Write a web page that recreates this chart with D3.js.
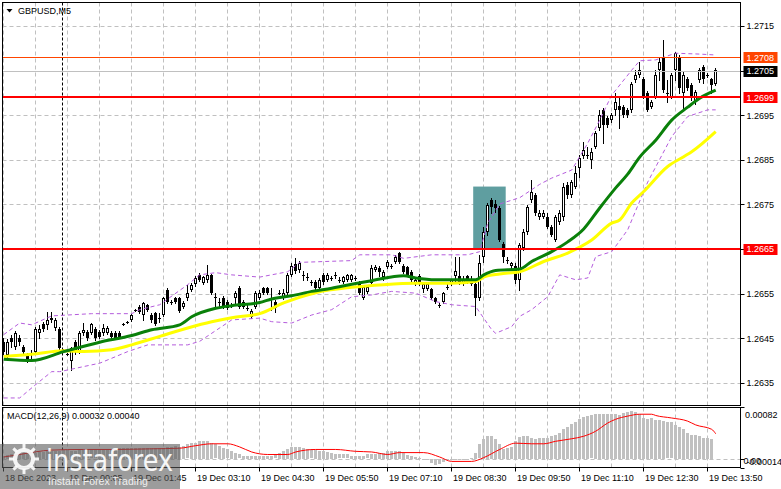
<!DOCTYPE html>
<html lang="en">

<head>
    <meta charset="utf-8">
    <!-- Load d3.js -->
    <script src="https://d3js.org/d3.v7.min.js"></script>
    <style>
        body { margin: 0; background: #fff; }
        svg text { font-family: "Liberation Sans", Arial, sans-serif; font-size: 9px; }
    </style>
</head>

<body>
    <div id="chart"></div>

    <script>
        // GBPUSD M5 candles, one entry per bar (bar 0 = first bar on screen)
        const opens = [
            1.26442, 1.26413, 1.26451, 1.26431, 1.26451, 1.26431, 1.26413, 1.26415, 1.26420, 1.26462,
            1.26482, 1.26480, 1.26496, 1.26473, 1.26471, 1.26424, 1.26415, 1.26399, 1.26442, 1.26420,
            1.26462, 1.26464, 1.26462, 1.26471, 1.26464, 1.26462, 1.26462, 1.26462, 1.26462, 1.26462,
            1.26482, 1.26487, 1.26491, 1.26514, 1.26520, 1.26502, 1.26525, 1.26502, 1.26507, 1.26496,
            1.26502, 1.26558, 1.26532, 1.26541, 1.26541, 1.26520, 1.26541, 1.26558, 1.26572, 1.26592,
            1.26574, 1.26581, 1.26592, 1.26543, 1.26532, 1.26541, 1.26532, 1.26525, 1.26541, 1.26563,
            1.26532, 1.26518, 1.26498, 1.26520, 1.26541, 1.26563, 1.26563, 1.26541, 1.26532, 1.26552,
            1.26541, 1.26552, 1.26592, 1.26617, 1.26603, 1.26592, 1.26588, 1.26576, 1.26576, 1.26563,
            1.26592, 1.26581, 1.26585, 1.26592, 1.26581, 1.26576, 1.26581, 1.26581, 1.26585, 1.26574,
            1.26541, 1.26554, 1.26574, 1.26603, 1.26608, 1.26588, 1.26610, 1.26612, 1.26621, 1.26641,
            1.26612, 1.26610, 1.26599, 1.26572, 1.26590, 1.26561, 1.26561, 1.26561, 1.26541, 1.26525,
            1.26532, 1.26565, 1.26572, 1.26590, 1.26590, 1.26572, 1.26590, 1.26572, 1.26572, 1.26541,
            1.26632, 1.26688, 1.26760, 1.26751, 1.26742, 1.26662, 1.26626, 1.26612, 1.26612, 1.26581,
            1.26652, 1.26688, 1.26760, 1.26771, 1.26722, 1.26722, 1.26722, 1.26700, 1.26670, 1.26711,
            1.26722, 1.26794, 1.26771, 1.26789, 1.26832, 1.26859, 1.26861, 1.26850, 1.26879, 1.26921,
            1.26962, 1.26944, 1.26939, 1.26962, 1.26971, 1.26968, 1.26962, 1.26962, 1.27029, 1.27040,
            1.27031, 1.27000, 1.26968, 1.26991, 1.27051, 1.27080, 1.27000, 1.26991, 1.27051, 1.27080,
            1.27000, 1.27031, 1.27018, 1.26980, 1.27029, 1.27058, 1.27040, 1.27031, 1.27020
        ];
        const highs = [
            1.26451, 1.26449, 1.26458, 1.26466, 1.26458, 1.26435, 1.26417, 1.26424, 1.26476, 1.26480,
            1.26487, 1.26509, 1.26509, 1.26496, 1.26476, 1.26426, 1.26417, 1.26431, 1.26446, 1.26466,
            1.26485, 1.26468, 1.26485, 1.26476, 1.26468, 1.26482, 1.26478, 1.26466, 1.26466, 1.26466,
            1.26485, 1.26489, 1.26505, 1.26516, 1.26525, 1.26532, 1.26527, 1.26507, 1.26509, 1.26507,
            1.26543, 1.26563, 1.26536, 1.26543, 1.26543, 1.26534, 1.26570, 1.26574, 1.26590, 1.26596,
            1.26590, 1.26614, 1.26594, 1.26552, 1.26541, 1.26545, 1.26536, 1.26529, 1.26556, 1.26567,
            1.26536, 1.26525, 1.26516, 1.26556, 1.26558, 1.26565, 1.26565, 1.26563, 1.26536, 1.26558,
            1.26561, 1.26596, 1.26619, 1.26630, 1.26624, 1.26601, 1.26596, 1.26581, 1.26581, 1.26585,
            1.26596, 1.26596, 1.26590, 1.26599, 1.26588, 1.26590, 1.26594, 1.26594, 1.26590, 1.26579,
            1.26570, 1.26567, 1.26614, 1.26614, 1.26612, 1.26603, 1.26626, 1.26617, 1.26636, 1.26643,
            1.26617, 1.26612, 1.26603, 1.26585, 1.26594, 1.26574, 1.26574, 1.26563, 1.26543, 1.26529,
            1.26554, 1.26572, 1.26583, 1.26632, 1.26632, 1.26590, 1.26592, 1.26590, 1.26581, 1.26636,
            1.26700, 1.26753, 1.26764, 1.26760, 1.26747, 1.26666, 1.26632, 1.26621, 1.26619, 1.26664,
            1.26695, 1.26749, 1.26805, 1.26776, 1.26738, 1.26738, 1.26731, 1.26704, 1.26726, 1.26738,
            1.26798, 1.26800, 1.26805, 1.26836, 1.26861, 1.26890, 1.26879, 1.26876, 1.26915, 1.26962,
            1.26966, 1.26948, 1.26955, 1.27000, 1.26991, 1.26973, 1.26966, 1.27024, 1.27051, 1.27069,
            1.27036, 1.27004, 1.26984, 1.27051, 1.27078, 1.27118, 1.27029, 1.27044, 1.27092, 1.27085,
            1.27047, 1.27036, 1.27022, 1.27006, 1.27056, 1.27062, 1.27044, 1.27033, 1.27056
        ];
        const lows = [
            1.26415, 1.26408, 1.26431, 1.26426, 1.26435, 1.26415, 1.26397, 1.26406, 1.26415, 1.26451,
            1.26466, 1.26471, 1.26487, 1.26468, 1.26426, 1.26420, 1.26413, 1.26379, 1.26415, 1.26417,
            1.26458, 1.26446, 1.26460, 1.26446, 1.26451, 1.26458, 1.26460, 1.26449, 1.26449, 1.26451,
            1.26480, 1.26485, 1.26489, 1.26511, 1.26507, 1.26491, 1.26511, 1.26487, 1.26480, 1.26487,
            1.26500, 1.26529, 1.26527, 1.26529, 1.26509, 1.26518, 1.26536, 1.26556, 1.26567, 1.26579,
            1.26572, 1.26576, 1.26548, 1.26520, 1.26520, 1.26518, 1.26516, 1.26520, 1.26525, 1.26518,
            1.26518, 1.26514, 1.26496, 1.26518, 1.26538, 1.26550, 1.26550, 1.26514, 1.26509, 1.26548,
            1.26538, 1.26550, 1.26590, 1.26596, 1.26599, 1.26581, 1.26581, 1.26570, 1.26558, 1.26561,
            1.26572, 1.26579, 1.26581, 1.26585, 1.26576, 1.26574, 1.26579, 1.26579, 1.26581, 1.26548,
            1.26538, 1.26552, 1.26572, 1.26601, 1.26590, 1.26581, 1.26608, 1.26608, 1.26619, 1.26619,
            1.26596, 1.26590, 1.26579, 1.26570, 1.26570, 1.26554, 1.26558, 1.26538, 1.26529, 1.26520,
            1.26529, 1.26561, 1.26570, 1.26574, 1.26572, 1.26570, 1.26574, 1.26570, 1.26502, 1.26536,
            1.26621, 1.26682, 1.26731, 1.26733, 1.26668, 1.26621, 1.26619, 1.26608, 1.26574, 1.26558,
            1.26648, 1.26684, 1.26756, 1.26726, 1.26717, 1.26720, 1.26697, 1.26679, 1.26668, 1.26706,
            1.26715, 1.26764, 1.26767, 1.26787, 1.26812, 1.26854, 1.26854, 1.26832, 1.26876, 1.26917,
            1.26888, 1.26924, 1.26935, 1.26950, 1.26921, 1.26946, 1.26946, 1.26957, 1.27024, 1.27036,
            1.26988, 1.26959, 1.26966, 1.26988, 1.27029, 1.27002, 1.26980, 1.26988, 1.27029, 1.27000,
            1.26962, 1.27006, 1.26984, 1.26975, 1.27024, 1.27022, 1.27036, 1.27000, 1.27018
        ];
        const closes = [
            1.26420, 1.26442, 1.26442, 1.26462, 1.26442, 1.26420, 1.26402, 1.26413, 1.26471, 1.26471,
            1.26471, 1.26491, 1.26491, 1.26491, 1.26428, 1.26422, 1.26415, 1.26428, 1.26420, 1.26462,
            1.26468, 1.26451, 1.26482, 1.26451, 1.26453, 1.26473, 1.26473, 1.26453, 1.26451, 1.26453,
            1.26482, 1.26487, 1.26502, 1.26514, 1.26509, 1.26529, 1.26514, 1.26491, 1.26482, 1.26496,
            1.26541, 1.26532, 1.26532, 1.26532, 1.26511, 1.26529, 1.26552, 1.26570, 1.26585, 1.26581,
            1.26588, 1.26592, 1.26552, 1.26543, 1.26532, 1.26520, 1.26518, 1.26525, 1.26552, 1.26520,
            1.26520, 1.26518, 1.26511, 1.26552, 1.26552, 1.26552, 1.26552, 1.26541, 1.26518, 1.26552,
            1.26552, 1.26592, 1.26612, 1.26601, 1.26619, 1.26592, 1.26588, 1.26576, 1.26563, 1.26581,
            1.26576, 1.26592, 1.26585, 1.26592, 1.26581, 1.26588, 1.26592, 1.26592, 1.26585, 1.26552,
            1.26565, 1.26565, 1.26608, 1.26610, 1.26599, 1.26599, 1.26621, 1.26612, 1.26632, 1.26621,
            1.26599, 1.26592, 1.26581, 1.26581, 1.26572, 1.26572, 1.26572, 1.26541, 1.26532, 1.26525,
            1.26552, 1.26565, 1.26581, 1.26601, 1.26576, 1.26581, 1.26581, 1.26581, 1.26541, 1.26619,
            1.26688, 1.26749, 1.26744, 1.26742, 1.26670, 1.26632, 1.26626, 1.26619, 1.26581, 1.26659,
            1.26688, 1.26744, 1.26778, 1.26731, 1.26731, 1.26731, 1.26700, 1.26682, 1.26722, 1.26731,
            1.26789, 1.26771, 1.26800, 1.26820, 1.26854, 1.26872, 1.26861, 1.26868, 1.26910, 1.26950,
            1.26928, 1.26928, 1.26950, 1.26980, 1.26962, 1.26950, 1.26950, 1.27020, 1.27040, 1.27051,
            1.26991, 1.26962, 1.26980, 1.27040, 1.27069, 1.27006, 1.27000, 1.27040, 1.27089, 1.27011,
            1.27040, 1.27011, 1.26991, 1.27002, 1.27051, 1.27031, 1.27040, 1.27018, 1.27051
        ];

        // moving averages and bollinger bands as [bar, price]
        const maGreen = [
            [0, 1.26403], [7, 1.26400], [15, 1.26420], [24, 1.26441], [32, 1.26456], [37, 1.26469],
            [44, 1.26480], [47, 1.26498], [53, 1.26517], [57, 1.26523], [64, 1.26530], [67, 1.26538],
            [72, 1.26545], [77, 1.26555], [82, 1.26562], [87, 1.26571], [92, 1.26579], [100, 1.26590],
            [103, 1.26585], [108, 1.26581], [118, 1.26581], [120, 1.26592], [123, 1.26602], [129, 1.26605],
            [132, 1.26622], [137, 1.26644], [141, 1.26666], [145, 1.26695], [149, 1.26742], [153, 1.26787],
            [156, 1.26818], [159, 1.26856], [163, 1.26894], [167, 1.26939], [171, 1.26968], [174, 1.26988],
            [178, 1.27006]
        ];
        const maYellow = [
            [0, 1.26409], [7, 1.26414], [15, 1.26422], [20, 1.26420], [27, 1.26424], [32, 1.26435],
            [39, 1.26454], [46, 1.26473], [52, 1.26487], [57, 1.26496], [64, 1.26505], [70, 1.26529],
            [78, 1.26552], [87, 1.26564], [95, 1.26570], [103, 1.26573], [112, 1.26573], [118, 1.26577],
            [120, 1.26587], [124, 1.26594], [129, 1.26599], [135, 1.26622], [141, 1.26641], [147, 1.26670],
            [152, 1.26708], [154, 1.26715], [157, 1.26753], [160, 1.26779], [166, 1.26835], [170, 1.26857],
            [172, 1.26868], [178, 1.26913]
        ];
        const bandUpper = [
            [0, 1.26458], [4, 1.26484], [7, 1.26480], [12, 1.26500], [22, 1.26505], [32, 1.26505],
            [34, 1.26514], [39, 1.26525], [46, 1.26570], [49, 1.26592], [53, 1.26597], [57, 1.26592],
            [64, 1.26587], [71, 1.26599], [74, 1.26620], [87, 1.26624], [89, 1.26637], [97, 1.26637],
            [100, 1.26629], [107, 1.26637], [116, 1.26637], [119, 1.26644], [121, 1.26708], [124, 1.26751],
            [129, 1.26765], [134, 1.26795], [137, 1.26809], [142, 1.26827], [146, 1.26887], [149, 1.26939],
            [152, 1.26995], [157, 1.27051], [159, 1.27072], [163, 1.27074], [168, 1.27089], [174, 1.27087],
            [178, 1.27085]
        ];
        const bandLower = [
            [0, 1.26316], [4, 1.26316], [8, 1.26346], [12, 1.26375], [14, 1.26375], [24, 1.26394],
            [27, 1.26405], [31, 1.26420], [36, 1.26435], [46, 1.26435], [49, 1.26443], [57, 1.26491],
            [64, 1.26495], [67, 1.26487], [72, 1.26484], [77, 1.26502], [82, 1.26514], [87, 1.26543],
            [92, 1.26547], [97, 1.26555], [103, 1.26551], [108, 1.26532], [112, 1.26525], [118, 1.26521],
            [122, 1.26469], [123, 1.26461], [127, 1.26476], [129, 1.26499], [132, 1.26514], [136, 1.26543],
            [139, 1.26592], [143, 1.26581], [146, 1.26585], [148, 1.26633], [152, 1.26644], [156, 1.26693],
            [161, 1.26800], [167, 1.26902], [171, 1.26947], [176, 1.26962], [178, 1.26962]
        ];

        // MACD(12,26,9): main line per bar (units of 0.00001), signal read as [bar, value]
        const macdMain = [
            5, 6, 7, 8, 8, 9, 9, 10, 10, 11, 11, 12, 12, 13, 13,
            14, 14, 13, 13, 14, 14, 15, 15, 15, 16, 16, 16, 16, 17, 17, 17,
            17, 17, 17, 17, 18, 18, 18, 18, 17, 18, 19, 19, 20,
            19, 21, 23, 25, 26, 28, 29, 28, 26, 23, 20, 17, 15, 12, 10, 7,
            5, 4, 4, 4, 5, 5, 5, 5, 7, 10, 12, 16, 19, 19, 19, 17,
            16, 15, 14, 13, 12, 11, 10, 8, 7, 7, 7, 5, 5, 5, 5, 7, 8, 8, 10, 10,
            12, 13, 13, 12, 10, 6, 5, 3, 2, 0, -2, -6, -9, -8, -4, -2,
            -1, -1, -1, -1, 0, 2, 10, 23, 32, 36, 36, 31, 24, 16, 17, 19,
            28, 35, 36, 36, 34, 32, 33, 33, 33, 36, 38, 41, 47, 51, 56, 59,
            63, 66, 68, 69, 71, 72, 72, 72, 72, 71, 70, 73, 75, 76, 75, 71,
            65, 63, 65, 62, 62, 60, 58, 58, 54, 51, 47, 41, 38, 38, 36, 34, 33, 32
        ];
        const macdSignal = [
            [0, 3], [4, 7], [12, 14], [20, 15], [28, 15], [37, 16], [44, 17], [48, 21], [52, 24],
            [56, 24], [59, 19], [62, 11], [66, 7], [71, 7], [73, 11], [78, 15], [83, 15], [88, 12],
            [92, 11], [96, 7], [99, 10], [105, 10], [109, 3], [112, -4], [117, -4], [120, 2],
            [124, 15], [128, 25], [132, 24], [135, 24], [138, 28], [142, 32], [145, 36], [148, 44],
            [151, 57], [153, 63], [156, 68], [159, 71], [162, 71], [163, 69], [167, 65], [171, 60],
            [173, 54], [177, 47], [178, 40]
        ];

        // axis ticks and labels
        const priceTicks = [1.2635, 1.2645, 1.2655, 1.2665, 1.2675, 1.2685, 1.2695, 1.2705, 1.2715];
        const timeBars = [0, 16, 32, 48, 64, 80, 96, 112, 128, 144, 160, 176];
        const timeLabels = ["18 Dec 2023", "19 Dec 00:05", "19 Dec 01:45", "19 Dec 03:10", "19 Dec 04:30",
            "19 Dec 05:50", "19 Dec 07:10", "19 Dec 08:30", "19 Dec 09:50", "19 Dec 11:10",
            "19 Dec 12:30", "19 Dec 13:50"];
        const daySeparatorBar = 15;

        // horizontal levels drawn on the chart
        const supportLevels = [1.2699, 1.2665];
        const highLevel = 1.2708;
        const bidLevel = 1.2705;
        // highlighted zone: [first bar, last bar, top price, bottom price]
        const zone = [118, 125, 1.2679, 1.2665];

        const macdTicks = [0.00082, 0, -0.00014];

        // layout
        const W = 781, H = 489;
        const left = 2.5, right = 740.5;
        const mainTop = 2.5, mainBottom = 405.5;
        const macdTop = 407.5, macdBottom = 467.5;

        const svg = d3.select("#chart")
            .append("svg")
            .attr("width", W)
            .attr("height", H);

        const nBars = closes.length;
        const x = d3.scaleLinear().domain([0, nBars - 1]).range([3.7, 3.7 + 4 * (nBars - 1)]);
        const y = d3.scaleLinear().domain([1.2635, 1.2715]).range([382.8, 26]);
        const ym = d3.scaleLinear().domain([-0.00014, 0.00082]).range([467.7, 407.3]);

        const snap = v => Math.round(v) + 0.5;
        const cx = i => Math.floor(x(i)) + 0.5;

        // clip paths for the two panes
        const defs = svg.append("defs");
        defs.append("clipPath").attr("id", "clipMain").append("rect")
            .attr("x", left).attr("y", mainTop).attr("width", right - left).attr("height", mainBottom - mainTop);
        defs.append("clipPath").attr("id", "clipMacd").append("rect")
            .attr("x", left).attr("y", macdTop).attr("width", right - left).attr("height", macdBottom - macdTop);

        const main = svg.append("g").attr("clip-path", "url(#clipMain)");
        const macd = svg.append("g").attr("clip-path", "url(#clipMacd)");

        // grid
        main.selectAll(".hgrid")
            .data(priceTicks)
            .join("line")
            .attr("x1", left).attr("x2", right)
            .attr("y1", d => snap(y(d))).attr("y2", d => snap(y(d)))
            .attr("stroke", "#c0c0c0").attr("stroke-dasharray", "4,3");

        const vBars = d3.range(0, nBars, 8);
        [main, macd].forEach((g, k) => {
            g.selectAll(".vgrid")
                .data(vBars)
                .join("line")
                .attr("x1", d => cx(d)).attr("x2", d => cx(d))
                .attr("y1", k ? macdTop : mainTop).attr("y2", k ? macdBottom : mainBottom)
                .attr("stroke", "#c0c0c0").attr("stroke-dasharray", "4,3");
            // day separator
            g.append("line")
                .attr("x1", cx(daySeparatorBar) - 1).attr("x2", cx(daySeparatorBar) - 1)
                .attr("y1", k ? macdTop : mainTop).attr("y2", k ? macdBottom : mainBottom)
                .attr("stroke", "#000").attr("stroke-dasharray", "3,2");
        });

        // highlighted zone
        main.append("rect")
            .attr("x", x(zone[0]) - 2.5)
            .attr("y", y(zone[2]))
            .attr("width", x(zone[1]) - x(zone[0]) + 4.5)
            .attr("height", y(zone[3]) - y(zone[2]))
            .attr("fill", "#5f9ea0");

        // candles
        const bars = d3.range(nBars);
        main.selectAll(".wick")
            .data(bars)
            .join("line")
            .attr("x1", d => cx(d)).attr("x2", d => cx(d))
            .attr("y1", d => Math.round(y(highs[d]))).attr("y2", d => Math.round(y(lows[d])) + 1)
            .attr("stroke", "#000");

        bars.forEach(i => {
            const o = opens[i], c = closes[i];
            const top = Math.round(y(Math.max(o, c))), bot = Math.round(y(Math.min(o, c)));
            if (bot - top < 1) {
                main.append("line")
                    .attr("x1", cx(i) - 1.5).attr("x2", cx(i) + 1.5)
                    .attr("y1", top + 0.5).attr("y2", top + 0.5)
                    .attr("stroke", "#000");
            } else if (c > o) {
                main.append("rect")
                    .attr("x", cx(i) - 1).attr("width", 2)
                    .attr("y", top + 0.5).attr("height", Math.max(bot - top - 1, 0))
                    .attr("fill", "#fff").attr("stroke", "#000");
            } else {
                main.append("rect")
                    .attr("x", cx(i) - 1.5).attr("width", 3)
                    .attr("y", top).attr("height", bot - top)
                    .attr("fill", "#000");
            }
        });

        // bollinger bands
        const lineXY = d3.line().x(d => x(d[0])).y(d => y(d[1]));
        [bandUpper, bandLower].forEach(band => {
            main.append("path")
                .attr("d", lineXY(band))
                .attr("fill", "none")
                .attr("stroke", "#b45cdc")
                .attr("stroke-dasharray", "4,3");
        });

        // moving averages
        const lineMA = d3.line().x(d => x(d[0])).y(d => y(d[1])).curve(d3.curveMonotoneX);
        main.append("path").attr("d", lineMA(maYellow))
            .attr("fill", "none").attr("stroke", "#ffff00").attr("stroke-width", 3);
        main.append("path").attr("d", lineMA(maGreen))
            .attr("fill", "none").attr("stroke", "#0a800a").attr("stroke-width", 3);

        // horizontal levels
        main.append("line")
            .attr("x1", left).attr("x2", right)
            .attr("y1", snap(y(bidLevel))).attr("y2", snap(y(bidLevel)))
            .attr("stroke", "#c0c0c0");
        main.append("line")
            .attr("x1", left).attr("x2", right)
            .attr("y1", snap(y(highLevel))).attr("y2", snap(y(highLevel)))
            .attr("stroke", "#ff4500");
        main.selectAll(".level")
            .data(supportLevels)
            .join("line")
            .attr("x1", left).attr("x2", right)
            .attr("y1", d => Math.round(y(d))).attr("y2", d => Math.round(y(d)))
            .attr("stroke", "#ff0000").attr("stroke-width", 2);

        // MACD histogram and signal
        macd.append("line")
            .attr("x1", left).attr("x2", right)
            .attr("y1", snap(ym(0))).attr("y2", snap(ym(0)))
            .attr("stroke", "#c0c0c0").attr("stroke-dasharray", "4,3");
        macd.selectAll(".hist")
            .data(macdMain)
            .join("rect")
            .attr("x", (d, i) => cx(i) - 1.5)
            .attr("width", 3)
            .attr("y", d => Math.round(Math.min(ym(d * 1e-5), ym(0))))
            .attr("height", d => Math.max(1, Math.round(Math.abs(ym(d * 1e-5) - ym(0)))))
            .attr("fill", "#c0c0c0");
        macd.append("path")
            .attr("d", d3.line().x(d => x(d[0])).y(d => ym(d[1] * 1e-5)).curve(d3.curveMonotoneX)(macdSignal))
            .attr("fill", "none").attr("stroke", "#ff0000").attr("stroke-width", 1);

        // pane frames
        svg.append("rect").attr("x", left).attr("y", mainTop)
            .attr("width", right - left).attr("height", mainBottom - mainTop)
            .attr("fill", "none").attr("stroke", "#000");
        svg.append("rect").attr("x", left).attr("y", macdTop)
            .attr("width", right - left).attr("height", macdBottom - macdTop)
            .attr("fill", "none").attr("stroke", "#000");

        // price axis
        svg.selectAll(".ptick")
            .data(priceTicks)
            .join("line")
            .attr("x1", right).attr("x2", right + 4)
            .attr("y1", d => snap(y(d))).attr("y2", d => snap(y(d)))
            .attr("stroke", "#000");
        svg.selectAll(".plabel")
            .data(priceTicks)
            .join("text")
            .attr("x", 746.5)
            .attr("y", d => y(d) + 3.3)
            .text(d => d.toFixed(4));

        // price tags on the axis
        const tags = [
            [highLevel, "#ff4500"],
            [bidLevel, "#000000"],
            [supportLevels[0], "#ff0000"],
            [supportLevels[1], "#ff0000"]
        ];
        tags.forEach(([p, col]) => {
            svg.append("rect")
                .attr("x", 743.5).attr("y", Math.round(y(p)) - 5)
                .attr("width", 34).attr("height", 11)
                .attr("fill", col);
            svg.append("text")
                .attr("x", 746.5).attr("y", y(p) + 3.3)
                .attr("fill", "#fff")
                .text(p.toFixed(4));
        });

        // MACD axis
        svg.selectAll(".mtick")
            .data(macdTicks)
            .join("line")
            .attr("x1", right).attr("x2", right + 4)
            .attr("y1", d => snap(ym(d))).attr("y2", d => snap(ym(d)))
            .attr("stroke", "#000");
        svg.append("text").attr("x", 745).attr("y", 417.5).text("0.00082");
        svg.append("text").attr("x", 743.5).attr("y", 464).text("0.00");
        svg.append("text").attr("x", 746.5).attr("y", 465).text("-0.00014");

        // time axis
        svg.selectAll(".ttick")
            .data(timeBars)
            .join("line")
            .attr("x1", d => cx(d)).attr("x2", d => cx(d))
            .attr("y1", macdBottom).attr("y2", macdBottom + 4)
            .attr("stroke", "#000");
        svg.selectAll(".tlabel")
            .data(timeBars)
            .join("text")
            .attr("x", d => cx(d) + 1.5)
            .attr("y", 481)
            .text((d, i) => timeLabels[i]);

        // titles
        svg.append("path").attr("d", "M6.5,9 L12.5,9 L9.5,12.5 Z").attr("fill", "#000");
        svg.append("text").attr("x", 18).attr("y", 14).text("GBPUSD,M5");
        svg.append("text").attr("x", 7).attr("y", 419).text("MACD(12,26,9) 0.00032 0.00040");

        // watermark
        const logo = svg.append("g");
        logo.append("rect").attr("x", 0).attr("y", 444).attr("width", 180).attr("height", 45)
            .attr("fill", "#5a5a5a").attr("opacity", 0.6);
        logo.append("circle").attr("cx", 24).attr("cy", 459).attr("r", 9)
            .attr("fill", "none").attr("stroke", "#fff").attr("stroke-width", 4).attr("opacity", 0.9);
        d3.range(8).forEach(k => {
            const a = k * Math.PI / 4;
            logo.append("line")
                .attr("x1", 24 + Math.cos(a) * 10).attr("y1", 459 + Math.sin(a) * 10)
                .attr("x2", 24 + Math.cos(a) * 15).attr("y2", 459 + Math.sin(a) * 15)
                .attr("stroke", "#fff").attr("stroke-width", 3).attr("opacity", 0.9);
        });
        logo.append("text").attr("x", 46).attr("y", 471)
            .style("font-size", "31px").style("font-family", "'DejaVu Sans', sans-serif")
            .attr("textLength", 127).attr("lengthAdjust", "spacingAndGlyphs")
            .attr("fill", "#fff").attr("opacity", 0.92)
            .text("instaforex");
        logo.append("text").attr("x", 48).attr("y", 485)
            .style("font-size", "11px")
            .attr("textLength", 100).attr("lengthAdjust", "spacingAndGlyphs")
            .attr("fill", "#fff").attr("opacity", 0.85)
            .text("Instant Forex Trading");
    </script>

</body>

</html>
